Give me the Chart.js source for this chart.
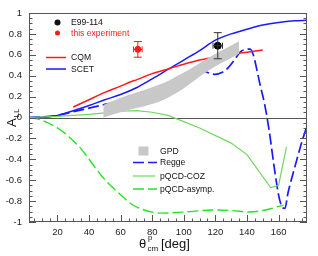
<!DOCTYPE html>
<html>
<head>
<meta charset="utf-8">
<script src="https://cdn.jsdelivr.net/npm/chart.js@4/dist/chart.umd.min.js"></script>
<style>
  html, body { margin: 0; padding: 0; background: #fff; }
  #wrap { width: 318px; height: 256px; }
</style>
</head>
<body>
<div id="wrap"><canvas id="c" width="318" height="256"></canvas></div>
<script>
// axis ticks
const xTicks = [20, 40, 60, 80, 100, 120, 140, 160];
const yTicks = [-1, -0.8, -0.6, -0.4, -0.2, 0, 0.2, 0.4, 0.6, 0.8, 1];

// measurements
const e99X = [121.5], e99Y = [0.687], e99YErr = [0.125], e99XErr = [3];
const expX = [70.9], expY = [0.652], expYErr = [0.075], expXErr = [2.7];

// models
const cqmX = [30, 40, 50, 60, 66, 70, 80, 90, 100, 110, 120, 130, 140, 150];
const cqmY = [0.10, 0.17, 0.24, 0.30, 0.34, 0.36, 0.42, 0.465, 0.51, 0.55, 0.58, 0.605, 0.625, 0.645];

const scetX = [2, 10, 20, 27, 30, 40, 50, 60, 70, 80, 90, 100, 110, 120, 130, 140, 150, 160, 170, 178];
const scetY = [0, 0.003, 0.02, 0.05, 0.065, 0.115, 0.17, 0.22, 0.285, 0.37, 0.46, 0.55, 0.64, 0.74, 0.80, 0.845, 0.885, 0.91, 0.925, 0.93];

const reggeX = [2, 10, 20, 27, 30, 40, 50, 60, 66, 70, 79, 85, 90, 94, 98, 102, 106, 109, 113, 117, 120, 124, 128, 132, 136, 139, 142, 144, 146.5, 148.5, 151, 154, 157, 160, 162, 164, 166, 168, 170, 172, 175, 178];
const reggeY = [0, 0.004, 0.02, 0.045, 0.055, 0.09, 0.125, 0.165, 0.19, 0.205, 0.245, 0.27, 0.29, 0.31, 0.35, 0.42, 0.46, 0.47, 0.445, 0.42, 0.413, 0.43, 0.475, 0.55, 0.63, 0.65, 0.655, 0.6, 0.44, 0.3, 0.14, -0.12, -0.45, -0.74, -0.85, -0.87, -0.72, -0.6, -0.49, -0.38, -0.22, -0.08];

const gpdX = [49, 60, 70, 80, 90, 100, 110, 120, 130, 135];
const gpdLow = [0.0, 0.05, 0.09, 0.13, 0.19, 0.28, 0.39, 0.49, 0.57, 0.61];
const gpdHigh = [0.12, 0.19, 0.24, 0.29, 0.35, 0.43, 0.52, 0.61, 0.69, 0.73];

const cozX = [2, 20, 30, 40, 50, 60, 70, 80, 90, 100, 110, 130, 140, 155, 160, 165];
const cozY = [0, 0.01, 0.02, 0.03, 0.045, 0.06, 0.065, 0.05, 0.02, -0.04, -0.10, -0.245, -0.355, -0.67, -0.65, -0.28];

const asympX = [2, 9, 20, 27, 35, 42, 48, 55, 60, 67, 74, 80, 86, 100, 119, 130, 142, 150, 155, 160, 163];
const asympY = [0, -0.02, -0.10, -0.18, -0.30, -0.44, -0.56, -0.67, -0.74, -0.83, -0.88, -0.905, -0.915, -0.905, -0.885, -0.89, -0.905, -0.89, -0.873, -0.85, -0.84];

const pts = (xs, ys) => xs.map((x, i) => ({ x: x, y: ys[i] }));

const RED = '#ff1a1a', BLUE = '#1a1aff', COZ = '#70d860', ASYMP = '#22e622', GRAY = '#c8c8c8';
const FONT = 'Liberation Sans, Arial, sans-serif';

const line = (data, color, width, dash, smooth) => ({
    type: 'line', data: data, borderColor: color, borderWidth: width, borderDash: dash || [],
    pointRadius: 0, fill: false, tension: smooth ? 0.4 : 0,
    cubicInterpolationMode: smooth ? 'monotone' : 'default'
});

const axisDecor = {
    id: 'axisDecor',
    beforeDatasetsDraw(chart) {
        const { ctx, chartArea: a, scales: { y } } = chart;
        ctx.save();
        ctx.strokeStyle = '#555';
        ctx.lineWidth = 1;
        ctx.beginPath();
        const y0 = Math.round(y.getPixelForValue(0)) + 0.5;
        ctx.moveTo(a.left, y0);
        ctx.lineTo(a.right, y0);
        ctx.stroke();
        ctx.restore();
    },
    afterDatasetsDraw(chart) {
        const { ctx, scales: { x, y } } = chart;
        ctx.save();
        const bars = (xs, ys, ex, ey, color) => {
            ctx.strokeStyle = color;
            ctx.lineWidth = 1;
            xs.forEach((v, i) => {
                const px = x.getPixelForValue(v), py = y.getPixelForValue(ys[i]);
                const t = y.getPixelForValue(ys[i] + ey[i]), b = y.getPixelForValue(ys[i] - ey[i]);
                const l = x.getPixelForValue(v - ex[i]), r = x.getPixelForValue(v + ex[i]);
                ctx.beginPath();
                ctx.moveTo(px, t); ctx.lineTo(px, b);
                ctx.moveTo(px - 4, t); ctx.lineTo(px + 4, t);
                ctx.moveTo(px - 4, b); ctx.lineTo(px + 4, b);
                ctx.moveTo(l, py); ctx.lineTo(r, py);
                ctx.moveTo(l, py - 3); ctx.lineTo(l, py + 3);
                ctx.moveTo(r, py - 3); ctx.lineTo(r, py + 3);
                ctx.stroke();
            });
        };
        bars(e99X, e99Y, e99XErr, e99YErr, '#333');
        bars(expX, expY, expXErr, expYErr, RED);
        ctx.restore();
    },
    afterDraw(chart) {
        const { ctx, chartArea: a, scales: { x, y } } = chart;
        ctx.save();
        // frame
        ctx.strokeStyle = '#555';
        ctx.lineWidth = 1;
        ctx.strokeRect(Math.round(a.left) + 0.5, Math.round(a.top) + 0.5,
            Math.round(a.right - a.left) - 1, Math.round(a.bottom - a.top) - 1);
        // inward ticks
        ctx.beginPath();
        for (let k = -20; k <= 20; k++) {
            const len = k % 4 === 0 ? 7 : 3.5;
            const py = Math.round(y.getPixelForValue(k * 0.05)) + 0.5;
            ctx.moveTo(a.left, py); ctx.lineTo(a.left + len, py);
            ctx.moveTo(a.right, py); ctx.lineTo(a.right - len, py);
        }
        for (let v = 5; v <= 175; v += 5) {
            const len = v % 20 === 0 ? 7 : 3.5;
            const px = Math.round(x.getPixelForValue(v)) + 0.5;
            ctx.moveTo(px, a.bottom); ctx.lineTo(px, a.bottom - len);
        }
        ctx.stroke();
        ctx.restore();

        // legends
        ctx.save();
        ctx.textBaseline = 'middle';
        ctx.textAlign = 'left';
        ctx.font = '8.6px ' + FONT;
        ctx.fillStyle = '#111';
        ctx.beginPath(); ctx.arc(57.5, 22.5, 3, 0, Math.PI * 2); ctx.fill();
        ctx.fillText('E99-114', 71, 23);
        ctx.fillStyle = RED;
        ctx.beginPath(); ctx.arc(57.5, 33, 2.5, 0, Math.PI * 2); ctx.fill();
        ctx.fillText('this experiment', 71, 33.5);

        const sample = (x1, x2, yy, color, width, dash) => {
            ctx.strokeStyle = color; ctx.lineWidth = width; ctx.setLineDash(dash || []);
            ctx.beginPath(); ctx.moveTo(x1, yy); ctx.lineTo(x2, yy); ctx.stroke();
            ctx.setLineDash([]);
        };
        sample(46, 66, 57.5, RED, 1.5);
        sample(46, 66, 69, BLUE, 1.5);
        ctx.fillStyle = '#111';
        ctx.fillText('CQM', 71, 58);
        ctx.fillText('SCET', 71, 69.5);

        ctx.fillStyle = GRAY;
        ctx.fillRect(138.5, 146.5, 10, 9);
        sample(133, 157, 162.5, BLUE, 1.5, [11, 4]);
        sample(133, 155, 176, COZ, 1.2);
        sample(133, 157, 189, ASYMP, 1.3, [11, 4]);
        ctx.fillStyle = '#111';
        ctx.fillText('GPD', 160, 151.5);
        ctx.fillText('Regge', 160, 163);
        ctx.fillText('pQCD-COZ', 160, 176.5);
        ctx.fillText('pQCD-asymp.', 160, 189.5);

        // x axis title
        ctx.textBaseline = 'alphabetic';
        ctx.font = '13px ' + FONT;
        ctx.fillText('\u03b8', 139, 248);
        ctx.font = '8px ' + FONT;
        ctx.fillText('p', 148, 240);
        ctx.fillText('cm', 147.5, 251);
        ctx.font = '13px ' + FONT;
        ctx.fillText('[deg]', 161, 248);
        ctx.restore();

        // y axis title
        ctx.save();
        ctx.fillStyle = '#111';
        ctx.textAlign = 'left';
        ctx.textBaseline = 'alphabetic';
        ctx.translate(16, 127);
        ctx.rotate(-Math.PI / 2);
        ctx.font = '13px ' + FONT;
        ctx.fillText('A', 0, 0);
        ctx.font = '8px ' + FONT;
        ctx.fillText('LL', 9.5, 2.5);
        ctx.restore();
    }
};

new Chart(document.getElementById('c'), {
    type: 'scatter',
    data: {
        datasets: [
            { type: 'line', data: pts(gpdX, gpdHigh), borderWidth: 0, pointRadius: 0,
              backgroundColor: GRAY, fill: '+1', tension: 0.3 },
            { type: 'line', data: pts(gpdX, gpdLow), borderWidth: 0, pointRadius: 0,
              backgroundColor: GRAY, fill: false, tension: 0.3 },
            line(pts(cozX, cozY), COZ, 1.2, null, false),
            line(pts(asympX, asympY), ASYMP, 1.4, [11, 4], true),
            line(pts(cqmX, cqmY), RED, 1.5, null, true),
            line(pts(scetX, scetY), BLUE, 1.5, null, true),
            line(pts(reggeX, reggeY), BLUE, 1.7, [11, 4], true),
            { data: pts(e99X, e99Y), backgroundColor: '#000', borderColor: '#000', pointRadius: 3.5 },
            { data: pts(expX, expY), backgroundColor: RED, borderColor: RED, pointRadius: 3 }
        ]
    },
    options: {
        responsive: false,
        animation: false,
        devicePixelRatio: 1,
        layout: { padding: { left: 0, top: 13, right: 11, bottom: 0 } },
        plugins: { legend: { display: false }, tooltip: { enabled: false } },
        scales: {
            x: {
                type: 'linear', min: 2, max: 178,
                grid: { display: false, drawTicks: false },
                border: { display: false },
                afterBuildTicks: s => { s.ticks = xTicks.map(v => ({ value: v })); },
                afterFit: s => { s.height = 34; },
                ticks: { padding: 5, color: '#222', font: { family: FONT, size: 9.5 },
                         maxRotation: 0, autoSkip: false, z: 1 }
            },
            y: {
                type: 'linear', min: -1, max: 1,
                grid: { display: false, drawTicks: false },
                border: { display: false },
                afterBuildTicks: s => { s.ticks = yTicks.map(v => ({ value: v })); },
                afterFit: s => { s.width = 29; },
                ticks: { padding: 7, color: '#222', font: { family: FONT, size: 9.5 }, autoSkip: false, z: 1,
                         callback: v => String(Math.round(v * 10) / 10) }
            }
        }
    },
    plugins: [axisDecor]
});
</script>
</body>
</html>
